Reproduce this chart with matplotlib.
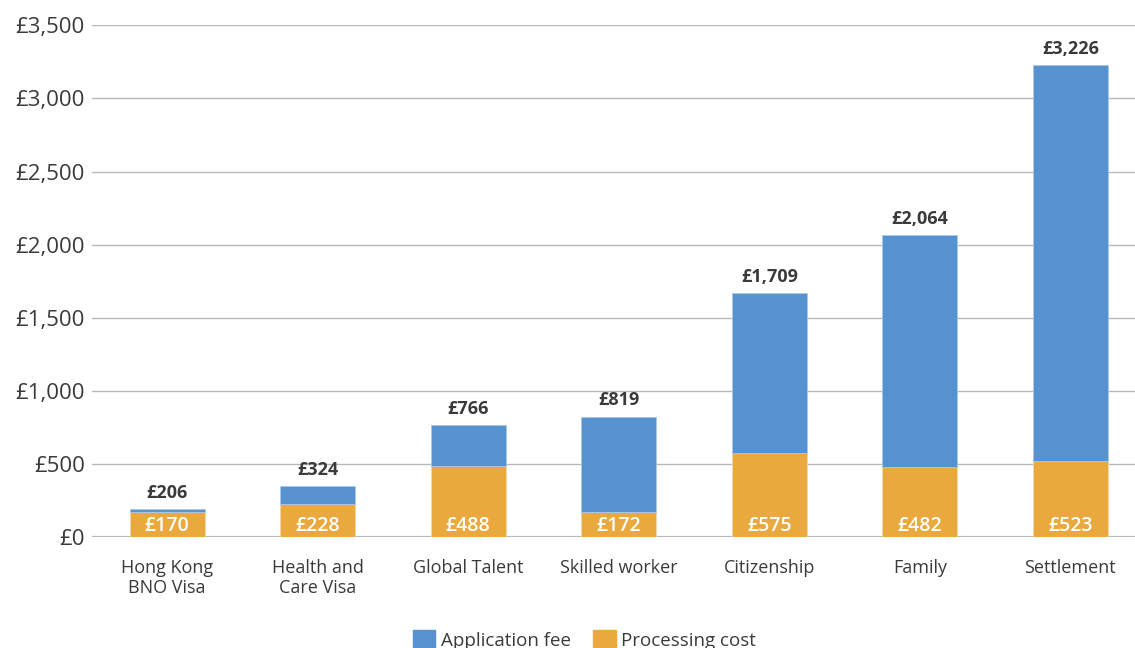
import matplotlib
matplotlib.use("Agg")
import matplotlib.pyplot as plt
import numpy as np
from matplotlib.patches import Patch

plt.rcParams["font.family"] = ["Open Sans", "DejaVu Sans"]

categories = ["Hong Kong\nBNO Visa", "Health and\nCare Visa", "Global Talent",
              "Skilled worker", "Citizenship", "Family", "Settlement"]
processing_cost = [170, 228, 488, 172, 575, 482, 523]
application_fee = [23, 123, 278, 652, 1095, 1582, 2703]
total_labels = [206, 324, 766, 819, 1709, 2064, 3226]

BLUE = "#5592CF"
ORANGE = "#E9A93F"
GRID = "#B4B8BD"
TXT = "#3A3A3A"

fig = plt.figure(figsize=(11.35, 6.48), dpi=100)
ax = fig.add_axes([0.081, 0.171, 0.919, 0.790])

x = np.arange(len(categories))
w = 0.5
ax.bar(x, processing_cost, w, color=ORANGE, edgecolor="#F3D9A8", lw=0.6, zorder=3)
ax.bar(x, application_fee, w, bottom=processing_cost, color=BLUE,
       edgecolor="#A9C8E8", lw=0.6, zorder=3)

for xi, pc, af, tot in zip(x, processing_cost, application_fee, total_labels):
    ax.text(xi, 10, f"£{pc:,}", ha="center", va="bottom", color="white",
            fontsize=14, fontweight="semibold", zorder=4)
    ax.text(xi, pc + af + 50, f"£{tot:,}", ha="center", va="bottom", color=TXT,
            fontsize=13, fontweight="bold", zorder=4)

ax.set_ylim(0, 3500)
ax.set_xlim(-0.5, 6.43)
ax.set_yticks(np.arange(0, 3501, 500))
ax.set_yticklabels([f"£{v:,}" for v in range(0, 3501, 500)])
ax.set_xticks(x)
ax.set_xticklabels(categories, fontsize=13, color=TXT, linespacing=1.1)
ax.tick_params(axis="y", length=0, pad=5, labelsize=16, labelcolor=TXT)
ax.tick_params(axis="x", length=0, pad=16)
ax.yaxis.grid(True, color=GRID, lw=1.0, zorder=0)
ax.set_axisbelow(True)
for s in ax.spines.values():
    s.set_visible(False)
ax.axhline(0, color=GRID, lw=1.6, zorder=2)

handles = [Patch(color=BLUE, label="Application fee"),
           Patch(color=ORANGE, label="Processing cost")]
fig.legend(handles=handles, loc="center", bbox_to_anchor=(0.515, 0.013), ncol=2,
           frameon=False, fontsize=13.5, handlelength=1.2, handleheight=1.2,
           handletextpad=0.3, columnspacing=1.2, labelcolor=TXT)

fig.savefig("out.png", dpi=100)
